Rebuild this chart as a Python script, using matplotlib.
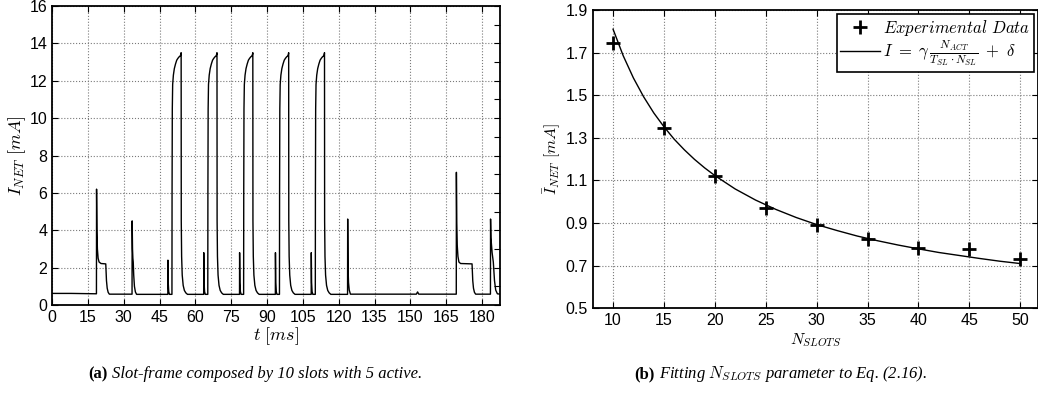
import matplotlib
matplotlib.use("Agg")
import matplotlib.pyplot as plt
import numpy as np
from matplotlib.ticker import MultipleLocator

plt.rcParams['font.family'] = ['Liberation Sans', 'DejaVu Sans']
plt.rcParams['mathtext.fontset'] = 'cm'

# ---- (a) current trace, breakpoints ----
# baseline / beacon / short spikes (t in ms, I in mA)
base_t = [0.0, 8.0, 18.6]
base_i = [0.62, 0.62, 0.6]

beacon1_t = [18.6, 18.65, 18.8, 19.0, 19.3, 19.7, 20.5, 22.5, 22.6, 22.8, 23.1, 23.5, 24.0]
beacon1_i = [0.6, 6.2, 4.0, 3.0, 2.5, 2.3, 2.22, 2.2, 1.9, 1.3, 0.9, 0.68, 0.58]

spike33_t = [33.5, 33.55, 33.7, 33.85, 34.0, 34.2, 34.5, 34.9, 35.4]
spike33_i = [0.58, 4.5, 3.0, 2.5, 2.3, 1.6, 1.0, 0.7, 0.57]

# five active slots: pre-spike + TX pulse, same shape each time
pulse_starts = [50.2, 65.2, 80.2, 95.2, 110.2]
prespike_peaks = [2.4, 2.8, 2.8, 2.8, 2.8]
prespike_dt = [-1.72, -1.68, -1.55, -1.35, -1.05]
prespike_i = [0.57, None, 1.2, 0.72, 0.57]
pulse_dt = [0.0, 0.05, 0.15, 0.3, 0.6, 1.0, 1.5, 2.0, 2.5, 3.0, 3.4, 3.7, 3.85,
            3.9, 4.05, 4.3, 4.7, 5.2, 5.8, 6.5]
pulse_i = [0.57, 6.0, 10.5, 11.8, 12.3, 12.65, 12.9, 13.1, 13.2, 13.28, 13.32, 13.4, 13.5,
           4.5, 2.6, 1.6, 1.05, 0.78, 0.65, 0.57]

spike124_t = [123.7, 123.75, 123.9, 124.1, 124.4, 124.9, 152.5, 153.0, 153.5]
spike124_i = [0.57, 4.6, 2.0, 1.2, 0.8, 0.58, 0.58, 0.7, 0.58]

beacon2_t = [169.2, 169.25, 169.4, 169.6, 169.9, 170.3, 171.0, 175.8, 175.9, 176.1, 176.4, 176.8, 177.3]
beacon2_i = [0.58, 7.1, 4.4, 3.2, 2.6, 2.3, 2.22, 2.2, 1.9, 1.3, 0.9, 0.68, 0.58]

spike184_t = [183.5, 183.55, 183.7, 184.2, 184.7, 185.2, 185.7, 186.4, 187.5]
spike184_i = [0.58, 4.6, 3.6, 2.8, 2.3, 1.3, 0.8, 0.6, 0.58]

# ---- (b) mean current vs number of slots ----
n_slots = [10, 15, 20, 25, 30, 35, 40, 45, 50]
i_measured = [1.745, 1.345, 1.12, 0.97, 0.89, 0.825, 0.785, 0.78, 0.73]
fit_n = [10, 11, 12, 13, 14, 15, 16, 17, 18, 19, 20, 22, 24, 26, 28, 30, 32, 34, 36,
         38, 40, 42, 44, 46, 48, 50]
fit_i = [1.810, 1.685, 1.581, 1.493, 1.417, 1.352, 1.294, 1.244, 1.199, 1.159, 1.123,
         1.060, 1.008, 0.964, 0.926, 0.893, 0.865, 0.839, 0.817, 0.797, 0.779, 0.762,
         0.748, 0.734, 0.721, 0.710]

W, H = 1038, 399


def build_trace():
    ts, vs = [], []
    ts += base_t; vs += base_i
    ts += beacon1_t; vs += beacon1_i
    ts += spike33_t; vs += spike33_i
    for t0, pk in zip(pulse_starts, prespike_peaks):
        ts += [t0 + d for d in prespike_dt]
        vs += [pk if v is None else v for v in prespike_i]
        ts += [t0 + d for d in pulse_dt]
        vs += pulse_i
    ts += spike124_t; vs += spike124_i
    ts += beacon2_t; vs += beacon2_i
    ts += spike184_t; vs += spike184_i
    return np.array(ts), np.array(vs)


def style_axes(ax):
    ax.grid(True, linestyle=':', color='#7a7a7a', linewidth=0.8)
    ax.tick_params(which='both', direction='in', top=True, right=True,
                   length=4, width=0.8, labelsize=11.5)
    for sp in ax.spines.values():
        sp.set_linewidth(1.3)


def caption(fig, center_px, label, body, size=12):
    # bold panel tag followed by the italic caption text, centred as a whole
    fam = ['Liberation Serif', 'DejaVu Serif']
    y = 1 - 378 / H
    tag = fig.text(0, y, label, ha='left', va='baseline', fontsize=size,
                   weight='bold', family=fam)
    txt = fig.text(0, y, body, ha='left', va='baseline', fontsize=size,
                   style='italic', family=fam)
    r = fig.canvas.get_renderer()
    wt = tag.get_window_extent(r).width
    wb = txt.get_window_extent(r).width
    gap = 4
    left = center_px - (wt + gap + wb) / 2
    tag.set_x(left / W)
    txt.set_x((left + wt + gap) / W)


fig = plt.figure(figsize=(10.38, 3.99), dpi=100)

# left panel
ax1 = fig.add_axes([52 / W, 1 - 305 / H, 448 / W, 299 / H])
t, cur = build_trace()
ax1.plot(t, cur, color='black', linewidth=1.0)
ax1.set_xlim(0, 187.5)
ax1.set_ylim(0, 16)
ax1.set_xticks(np.arange(0, 181, 15))
ax1.set_yticks(np.arange(0, 17, 2))
ax1.yaxis.set_minor_locator(MultipleLocator(1))
style_axes(ax1)
ax1.tick_params(which='minor', left=False, right=True)
ax1.set_xlabel(r'$t\ [ms]$', fontsize=13, labelpad=0)
ax1.set_ylabel(r'$I_{NET}\ [mA]$', fontsize=13, labelpad=1)

# right panel
ax2 = fig.add_axes([592.7 / W, 1 - 308.3 / H, 445.3 / W, 298.3 / H])
ax2.plot(n_slots, i_measured, '+', color='black', markersize=10, mew=2,
         label=r'$Experimental\ Data$')
ax2.plot(fit_n, fit_i, color='black', linewidth=1.0,
         label=r'$I\ =\ \gamma\,\frac{N_{ACT}}{T_{SL}\cdot N_{SL}}\ +\ \delta$')
ax2.set_xlim(8, 51.75)
ax2.set_ylim(0.5, 1.9)
ax2.set_xticks(np.arange(10, 51, 5))
ax2.set_yticks(np.arange(0.5, 1.91, 0.2))
ax2.set_yticklabels([f'{v:.1f}' for v in np.arange(0.5, 1.91, 0.2)])
style_axes(ax2)
ax2.set_xlabel(r'$N_{SLOTS}$', fontsize=11.5, labelpad=2)
ax2.set_ylabel(r'$\bar{I}_{NET}\ [mA]$', fontsize=11.5, labelpad=2)
leg = ax2.legend(loc='upper right', fontsize=12, fancybox=False, framealpha=1,
                 edgecolor='black', borderaxespad=0.25, handlelength=2.4,
                 borderpad=0.2, labelspacing=0.05, handletextpad=0.2)
leg.get_frame().set_linewidth(1.2)

# captions
fig.canvas.draw()
caption(fig, 255, '(a)', 'Slot-frame composed by 10 slots with 5 active.')
caption(fig, 781, '(b)', r'Fitting $N_{SLOTS}$ parameter to Eq. (2.16).')

fig.savefig('out.png', dpi=100)
plt.close(fig)
